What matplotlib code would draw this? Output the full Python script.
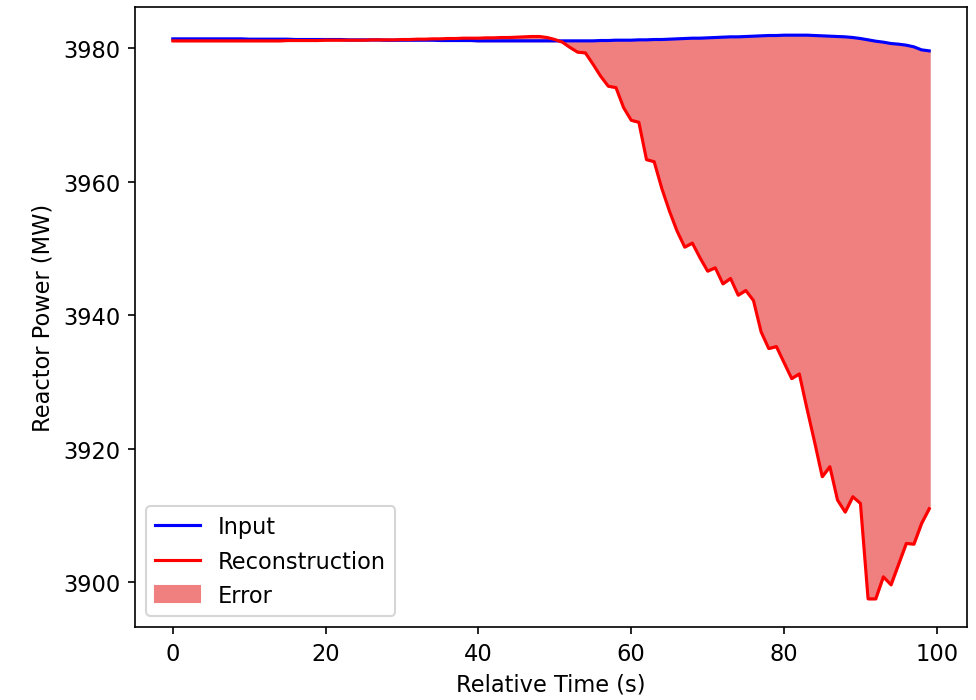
import numpy as np
import matplotlib
matplotlib.use('Agg')
import matplotlib.pyplot as plt

plt.rcParams['font.size'] = 10.8

# relative time, one sample per second
time_s = np.arange(100)

# measured reactor power (MW)
input_mw = [
    3981.4, 3981.4, 3981.4, 3981.4, 3981.4, 3981.4, 3981.4, 3981.4, 3981.4, 3981.4,
    3981.35, 3981.35, 3981.35, 3981.35, 3981.35, 3981.35, 3981.3, 3981.3, 3981.3, 3981.3,
    3981.3, 3981.3, 3981.3, 3981.25, 3981.25, 3981.25, 3981.25, 3981.25, 3981.2, 3981.2,
    3981.2, 3981.2, 3981.2, 3981.2, 3981.2, 3981.15, 3981.15, 3981.15, 3981.15, 3981.15,
    3981.1, 3981.1, 3981.1, 3981.1, 3981.1, 3981.1, 3981.1, 3981.1, 3981.1, 3981.1,
    3981.1, 3981.1, 3981.1, 3981.1, 3981.1, 3981.1, 3981.15, 3981.15, 3981.2, 3981.2,
    3981.2, 3981.25, 3981.25, 3981.3, 3981.3, 3981.35, 3981.4, 3981.45, 3981.5, 3981.5,
    3981.55, 3981.6, 3981.65, 3981.7, 3981.7, 3981.75, 3981.8, 3981.85, 3981.9, 3981.9,
    3981.95, 3981.95, 3981.95, 3981.95, 3981.9, 3981.85, 3981.8, 3981.75, 3981.7, 3981.6,
    3981.45, 3981.25, 3981.05, 3980.9, 3980.7, 3980.6, 3980.45, 3980.2, 3979.75, 3979.6,
]

# autoencoder reconstruction (MW)
recon_mw = [
    3981.1, 3981.1, 3981.1, 3981.1, 3981.1, 3981.1, 3981.1, 3981.1, 3981.1, 3981.1,
    3981.1, 3981.1, 3981.1, 3981.1, 3981.1, 3981.15, 3981.15, 3981.15, 3981.15, 3981.15,
    3981.2, 3981.2, 3981.2, 3981.2, 3981.2, 3981.2, 3981.25, 3981.25, 3981.25, 3981.25,
    3981.3, 3981.3, 3981.35, 3981.35, 3981.4, 3981.4, 3981.45, 3981.45, 3981.5, 3981.5,
    3981.5, 3981.55, 3981.55, 3981.6, 3981.6, 3981.65, 3981.7, 3981.75, 3981.75, 3981.6,
    3981.3, 3980.9, 3980.1, 3979.4, 3979.3, 3977.6, 3975.8, 3974.3, 3974.1, 3971.1,
    3969.2, 3968.9, 3963.3, 3963.0, 3959.0, 3955.6, 3952.6, 3950.2, 3950.8, 3948.6,
    3946.6, 3947.1, 3944.7, 3945.5, 3943.0, 3943.7, 3942.2, 3937.5, 3935.0, 3935.3,
    3932.9, 3930.5, 3931.2, 3926.0, 3921.0, 3915.8, 3917.3, 3912.3, 3910.5, 3912.8,
    3911.8, 3897.5, 3897.5, 3900.8, 3899.6, 3902.7, 3905.8, 3905.7, 3908.8, 3911.0,
]

fig, ax = plt.subplots(figsize=(976/150, 701/150), dpi=150)
fig.subplots_adjust(left=0.1383, right=0.9908, top=0.9886, bottom=0.1041)

ax.plot(time_s, input_mw, color='blue', label='Input')
ax.plot(time_s, recon_mw, color='red', label='Reconstruction')
ax.fill_between(time_s, input_mw, recon_mw, color='lightcoral', label='Error')

ax.set_xlabel('Relative Time (s)')
ax.set_ylabel('Reactor Power (MW)')
ax.legend(loc='lower left')

plt.savefig('out.png', dpi=150)
